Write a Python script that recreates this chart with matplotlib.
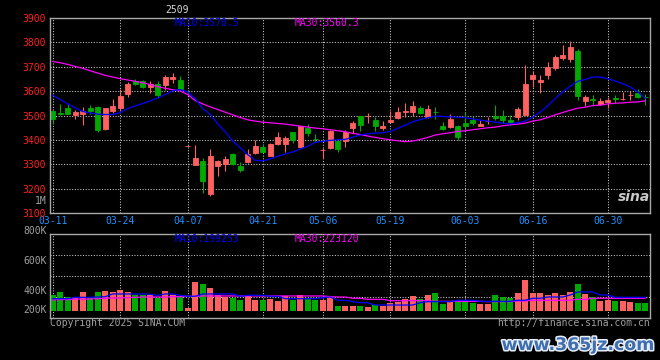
import matplotlib
matplotlib.use("Agg")
import matplotlib.pyplot as plt
import matplotlib.patheffects as pe
import numpy as np

# ---- données (index = séance) ----
DATE_TICKS = [0, 9, 18, 28, 36, 45, 55, 64, 74]
DATE_LABELS = ["03-11", "03-24", "04-07", "04-21", "05-06", "05-19", "06-03", "06-16", "06-30"]

OPEN = [3517.7, 3509.5, 3532.6, 3504.0, 3506.8, 3532.6, 3536.7, 3442.8, 3520.4, 3530.0,
        3589.8, 3640.2, 3642.8, 3617.7, 3630.6, 3623.8, 3648.3, 3646.9, 3376.2, 3297.3,
        3313.6, 3177.5, 3293.2, 3300.0, 3340.8, 3291.8, 3309.5, 3347.6, 3369.4, 3335.4,
        3381.6, 3381.6, 3430.6, 3370.7, 3449.6, 3405.4, 3358.5, 3365.3, 3393.9, 3393.9,
        3446.9, 3495.9, 3496.0, 3482.3, 3448.3, 3472.8, 3489.1, 3513.6, 3516.3, 3532.6,
        3493.2, 3515.5, 3455.1, 3452.4, 3455.1, 3467.3, 3480.9, 3457.8, 3476.9, 3495.9,
        3500.0, 3482.3, 3491.8, 3504.0, 3648.3, 3636.1, 3667.3, 3695.9, 3736.7, 3732.6,
        3765.3, 3561.2, 3566.0, 3549.0, 3555.8, 3570.2, 3568.8, 3584.8, 3592.5, 3576.8]
HIGH = [3518.0, 3547.6, 3547.6, 3521.7, 3536.7, 3544.9, 3540.8, 3532.6, 3569.5, 3610.2,
        3638.8, 3651.0, 3645.5, 3642.8, 3640.2, 3667.3, 3675.6, 3663.2, 3376.2, 3377.5,
        3327.2, 3362.6, 3317.7, 3334.0, 3344.9, 3310.9, 3361.2, 3398.0, 3381.6, 3385.7,
        3432.0, 3415.6, 3430.6, 3455.1, 3463.2, 3425.2, 3368.0, 3438.8, 3395.2, 3438.8,
        3476.9, 3497.3, 3510.9, 3494.5, 3476.9, 3520.4, 3536.7, 3553.0, 3561.2, 3540.8,
        3544.9, 3536.7, 3474.1, 3508.0, 3459.2, 3516.3, 3497.3, 3482.3, 3491.8, 3542.2,
        3524.5, 3501.3, 3536.7, 3708.1, 3683.7, 3667.3, 3717.7, 3749.0, 3789.8, 3806.1,
        3773.4, 3585.7, 3585.7, 3572.1, 3577.5, 3584.3, 3598.0, 3600.7, 3610.2, 3589.8]
LOW = [3466.0, 3504.0, 3508.0, 3483.7, 3463.0, 3506.8, 3432.0, 3440.0, 3509.5, 3519.0,
       3574.8, 3623.8, 3613.0, 3591.1, 3572.1, 3604.8, 3633.3, 3602.0, 3376.2, 3297.3,
       3181.6, 3170.7, 3251.0, 3272.8, 3298.6, 3268.7, 3306.8, 3340.8, 3349.0, 3334.0,
       3379.0, 3351.7, 3385.7, 3368.0, 3415.6, 3391.1, 3324.5, 3364.0, 3350.3, 3370.7,
       3426.5, 3436.0, 3468.7, 3436.0, 3441.5, 3471.4, 3486.4, 3494.5, 3497.3, 3508.0,
       3490.5, 3483.7, 3438.8, 3449.6, 3400.6, 3449.6, 3459.2, 3456.4, 3463.2, 3480.9,
       3470.0, 3460.5, 3480.9, 3501.3, 3616.3, 3591.1, 3648.3, 3687.7, 3728.5, 3717.7,
       3562.6, 3538.0, 3540.8, 3544.9, 3530.0, 3550.3, 3565.3, 3562.6, 3572.1, 3542.2]
CLOSE = [3485.0, 3506.8, 3508.0, 3516.3, 3519.0, 3520.4, 3440.1, 3530.0, 3540.8, 3581.6,
         3630.6, 3627.9, 3618.4, 3630.6, 3585.7, 3656.4, 3659.2, 3610.2, 3376.2, 3324.5,
         3232.0, 3332.6, 3313.6, 3320.4, 3300.0, 3275.5, 3343.5, 3373.5, 3350.3, 3381.6,
         3410.2, 3406.1, 3399.3, 3455.1, 3427.9, 3404.0, 3358.5, 3436.0, 3361.2, 3433.3,
         3467.3, 3460.5, 3497.0, 3455.1, 3457.8, 3482.3, 3513.6, 3520.4, 3540.8, 3512.2,
         3525.8, 3514.0, 3442.8, 3483.7, 3411.5, 3457.8, 3467.3, 3463.2, 3477.5, 3489.1,
         3480.9, 3471.4, 3527.2, 3630.6, 3666.0, 3646.9, 3698.6, 3740.8, 3749.0, 3781.6,
         3578.9, 3577.5, 3564.5, 3561.2, 3565.3, 3569.0, 3569.4, 3585.7, 3574.8, 3576.2]

MA10 = [3583.0, 3565.3, 3547.6, 3531.3, 3516.3, 3510.9, 3505.4, 3504.1, 3504.1, 3512.2,
        3528.6, 3539.4, 3549.0, 3559.8, 3572.1, 3585.7, 3602.0, 3606.1, 3596.6, 3569.4,
        3528.6, 3504.1, 3466.0, 3433.3, 3395.2, 3368.0, 3339.4, 3316.3, 3313.6, 3321.8,
        3332.6, 3342.2, 3350.3, 3362.6, 3373.5, 3389.8, 3393.9, 3398.0, 3400.7, 3402.0,
        3411.5, 3419.7, 3425.2, 3427.9, 3429.2, 3434.7, 3446.9, 3460.5, 3474.1, 3483.7,
        3490.5, 3497.3, 3495.9, 3494.5, 3493.2, 3490.5, 3486.4, 3480.9, 3476.9, 3472.8,
        3468.7, 3466.0, 3470.1, 3476.9, 3493.2, 3514.9, 3539.4, 3569.4, 3596.6, 3619.7,
        3640.1, 3648.3, 3657.8, 3657.8, 3651.0, 3641.5, 3630.6, 3617.0, 3596.6, 3570.5]
MA30 = [3721.7, 3716.3, 3709.5, 3701.3, 3693.2, 3683.7, 3674.1, 3664.6, 3657.8, 3651.0,
        3645.6, 3640.1, 3634.7, 3626.5, 3618.4, 3611.5, 3606.1, 3600.7, 3585.7, 3561.2,
        3547.6, 3535.4, 3524.5, 3513.6, 3502.7, 3491.8, 3482.3, 3476.9, 3472.8, 3470.1,
        3467.3, 3464.6, 3460.5, 3456.5, 3452.4, 3448.3, 3445.6, 3441.5, 3437.4, 3433.3,
        3426.5, 3422.4, 3415.6, 3410.2, 3404.8, 3400.7, 3396.6, 3392.5, 3395.2, 3402.0,
        3410.2, 3419.7, 3425.2, 3429.2, 3434.7, 3437.4, 3441.5, 3445.6, 3449.6, 3452.4,
        3457.8, 3461.9, 3464.6, 3468.7, 3476.9, 3482.3, 3491.8, 3502.7, 3512.2, 3521.8,
        3529.9, 3534.0, 3540.8, 3542.2, 3547.6, 3550.3, 3551.7, 3554.4, 3555.8, 3560.3]

# volume en milliers
VOLUME = [221, 250, 202, 202, 252, 195, 250, 259, 250, 269,
          250, 218, 221, 221, 195, 259, 221, 212, 101, 344,
          326, 288, 221, 199, 195, 177, 218, 177, 177, 180,
          167, 212, 171, 221, 186, 177, 177, 199, 117, 117,
          117, 117, 104, 126, 117, 148, 158, 180, 212, 180,
          218, 240, 139, 158, 158, 171, 148, 139, 139, 221,
          202, 190, 240, 363, 237, 240, 221, 240, 221, 252,
          326, 231, 199, 167, 177, 167, 167, 158, 148, 148]
VOL_MA10 = [186, 186, 186, 199, 199, 199, 202, 205, 231, 231,
            231, 231, 231, 228, 218, 231, 231, 218, 209, 209,
            231, 231, 231, 231, 231, 209, 218, 218, 218, 209,
            209, 186, 186, 186, 186, 186, 196, 202, 171, 171,
            158, 148, 148, 126, 126, 126, 126, 126, 126, 148,
            158, 158, 158, 158, 171, 171, 171, 161, 161, 161,
            161, 161, 171, 171, 190, 190, 202, 202, 202, 221,
            250, 250, 250, 221, 221, 199, 199, 199, 199, 199]
VOL_MA30 = [174, 177, 177, 183, 183, 183, 186, 190, 193, 193,
            196, 199, 202, 202, 202, 202, 205, 205, 209, 209,
            212, 212, 212, 212, 212, 212, 212, 212, 212, 212,
            212, 212, 212, 212, 212, 212, 212, 205, 202, 202,
            190, 190, 180, 180, 180, 167, 167, 167, 167, 167,
            167, 161, 161, 161, 161, 161, 161, 161, 158, 158,
            158, 158, 164, 164, 171, 171, 171, 171, 171, 171,
            180, 180, 190, 190, 190, 190, 190, 190, 190, 190]
VOL_BASE = 72

UP = "#ff6060"
DOWN = "#00aa00"
GRID = "#c8c8c8"
BORDER = "#a8a8a8"
GRAY = "#a0a0a0"
MONO = "DejaVu Sans Mono"
W, H = 660, 360


def px(x, y):
    return x / W, 1 - y / H


def main():
    o = np.array(OPEN); c = np.array(CLOSE)
    hi = np.array(HIGH); lo = np.array(LOW)
    x = np.arange(len(o))
    cols = [UP if cc >= oo else DOWN for oo, cc in zip(o, c)]

    fig = plt.figure(figsize=(W / 100, H / 100), dpi=100, facecolor="black")
    ax = fig.add_axes([50 / W, 1 - 213 / H, 600 / W, 195 / H])
    axv = fig.add_axes([50 / W, 1 - 318.3 / H, 600 / W, 84.3 / H])

    for a in (ax, axv):
        a.set_facecolor("black")
        a.set_xlim(-0.36, 79.64)
        a.set_xticks(DATE_TICKS)
        a.tick_params(length=0)
        a.grid(True, color=GRID, lw=0.75, ls=(0, (1, 1.6)), zorder=0)
        for s in a.spines.values():
            s.set_color(BORDER); s.set_linewidth(1.0)

    # --- panneau prix ---
    ax.set_ylim(3100, 3900)
    ax.set_yticks(range(3100, 3901, 100))
    ax.set_yticklabels([str(v) for v in range(3100, 3901, 100)],
                       color="#ff2020", fontsize=7, family=MONO)
    ax.set_xticklabels(DATE_LABELS, color="#1e90ff", fontsize=7, family=MONO)
    ax.tick_params(axis="y", pad=3)
    ax.tick_params(axis="x", pad=2.5)

    ax.vlines(x, lo, hi, colors=cols, lw=0.8, zorder=2)
    ax.bar(x, np.abs(c - o), bottom=np.minimum(o, c), width=0.72,
           color=cols, edgecolor=cols, linewidth=0.6, zorder=2)
    ax.plot(x, MA30, color="#ff00ff", lw=0.9, zorder=3)
    ax.plot(x, MA10, color="#0000ff", lw=0.9, zorder=3)

    # --- panneau volume ---
    axv.set_ylim(0, 800)
    axv.set_yticks([200, 400, 600])
    axv.set_yticklabels([])
    axv.set_xticklabels([])
    vol = np.array(VOLUME)
    axv.bar(x, vol - VOL_BASE, bottom=VOL_BASE, width=0.8, color=cols, lw=0, zorder=2)
    axv.plot(x, VOL_MA30, color="#ff00ff", lw=0.9, zorder=3)
    axv.plot(x, VOL_MA10, color="#0000ff", lw=0.9, zorder=3)

    # --- textes ---
    kw = dict(family=MONO, fontsize=7, va="center")
    fig.text(*px(177, 10), "2509", ha="center", color="#d8d8d8", **kw)
    fig.text(*px(175, 23), "MA10:3570.5", ha="left", color="#0000ff", **kw)
    fig.text(*px(295, 23), "MA30:3560.3", ha="left", color="#ff00ff", **kw)
    fig.text(*px(47, 200.5), "1M", ha="right", color=GRAY, **kw)
    fig.text(*px(175, 238.5), "MA10:199253", ha="left", color="#0000ff", **kw)
    fig.text(*px(295, 238.5), "MA30:223120", ha="left", color="#ff00ff", **kw)
    for lab, yy in [("800K", 231), ("600K", 261), ("400K", 291), ("200K", 310)]:
        fig.text(*px(47, yy), lab, ha="right", color=GRAY, **kw)
    fig.text(*px(50, 323.5), "Copyright 2025 SINA.COM", ha="left", color=GRAY, **kw)
    fig.text(*px(650, 323.5), "http://finance.sina.com.cn", ha="right", color=GRAY, **kw)
    fig.text(*px(634, 197), "sina", ha="center", va="center", color="#c8c8c8",
             fontsize=10, fontweight="bold", style="italic")
    fig.text(*px(654, 345), "www.365jz.com", ha="right", va="center", color="#3f6fae",
             fontsize=12.5, fontweight="bold",
             path_effects=[pe.withStroke(linewidth=2.2, foreground="#e8eef8")])

    fig.savefig("out.png", dpi=100, facecolor="black")


if __name__ == "__main__":
    main()
